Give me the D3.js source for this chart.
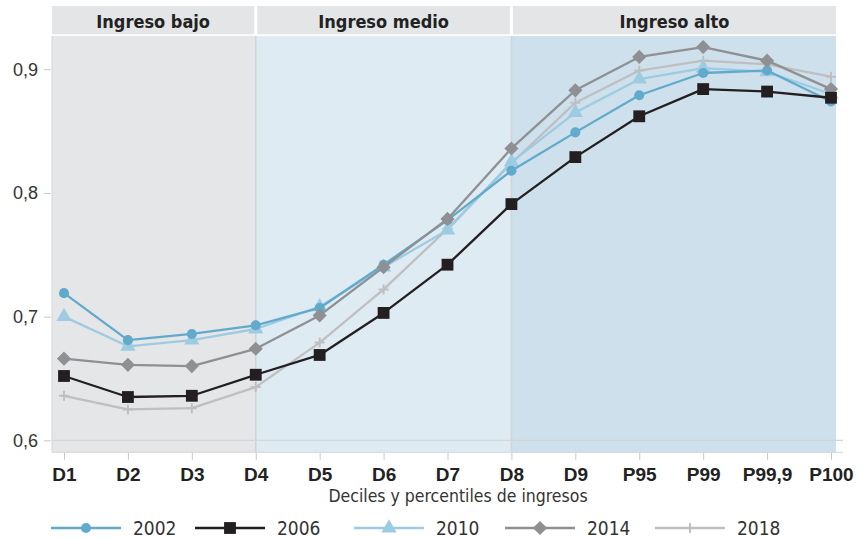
<!DOCTYPE html>
<html>
<head>
<meta charset="utf-8">
<script src="https://cdn.jsdelivr.net/npm/d3@7"></script>
<style>
  html, body { margin: 0; padding: 0; background: #fff; }
  svg { display: block; font-family: "Liberation Sans Narrow", "DejaVu Sans Condensed", "Roboto", sans-serif; }
</style>
</head>
<body>
<svg id="chart" width="866" height="539"></svg>
<script>
const categories = ["D1","D2","D3","D4","D5","D6","D7","D8","D9","P95","P99","P99,9","P100"];
const s2002 = [0.719,0.681,0.686,0.693,0.707,0.742,0.778,0.818,0.849,0.879,0.897,0.899,0.874];
const s2006 = [0.652,0.635,0.636,0.653,0.669,0.703,0.742,0.791,0.829,0.862,0.884,0.882,0.877];
const s2010 = [0.700,0.676,0.681,0.690,0.708,0.740,0.770,0.825,0.865,0.892,0.901,0.898,0.880];
const s2014 = [0.666,0.661,0.660,0.674,0.701,0.740,0.779,0.836,0.883,0.910,0.918,0.907,0.884];
const s2018 = [0.636,0.625,0.626,0.643,0.679,0.722,0.771,0.824,0.873,0.899,0.907,0.904,0.894];
const yTicks = [0.6, 0.7, 0.8, 0.9];
const yTickLabels = ["0,6", "0,7", "0,8", "0,9"];
const panels = [
  { label: "Ingreso bajo", from: null, to: "D4", fill: "#e5e6e8" },
  { label: "Ingreso medio", from: "D4", to: "D8", fill: "#deebf3" },
  { label: "Ingreso alto", from: "D8", to: null, fill: "#cde0ec" }
];
const seriesInfo = [
  { name: "2002", values: s2002, color: "#62aacb", symbol: "circle" },
  { name: "2006", values: s2006, color: "#231f20", symbol: "square" },
  { name: "2010", values: s2010, color: "#9dcbe1", symbol: "triangle" },
  { name: "2014", values: s2014, color: "#8f9093", symbol: "diamond" },
  { name: "2018", values: s2018, color: "#bfbfc1", symbol: "plus" }
];
const drawOrder = ["2018", "2010", "2002", "2014", "2006"];
const xTitle = "Deciles y percentiles de ingresos";

const svg = d3.select("#chart");
const x = d3.scalePoint().domain(categories).range([64, 831]);
const y = d3.scaleLinear().domain([0.6, 0.9]).range([440.3, 69.3]);

const plotLeft = 52, plotRight = 836, gridRight = 843;
const plotTop = y(0.927), plotBottom = y(0.5903);
const headTop = 6, headBottom = 34.3;

// panels
panels.forEach((p, i) => {
  const x0 = p.from ? x(p.from) : plotLeft;
  const x1 = p.to ? x(p.to) : plotRight;
  svg.append("rect").attr("x", x0).attr("y", plotTop).attr("width", x1 - x0).attr("height", plotBottom - plotTop).attr("fill", p.fill);
  const hx0 = x0 + (i === 0 ? 0 : 1.5), hx1 = x1 - (i === panels.length - 1 ? 0 : 1.5);
  svg.append("rect").attr("x", hx0).attr("y", headTop).attr("width", hx1 - hx0).attr("height", headBottom - headTop).attr("fill", "#e4e5e7");
  svg.append("text").attr("x", (hx0 + hx1) / 2).attr("y", 27.5).attr("text-anchor", "middle")
    .attr("font-size", 18).attr("font-weight", "bold").attr("fill", "#222").text(p.label);
});
// separators
["D4", "D8"].forEach(c => {
  svg.append("line").attr("x1", x(c)).attr("x2", x(c)).attr("y1", plotTop).attr("y2", plotBottom)
    .attr("stroke", "#cfd4d8").attr("stroke-width", 1.5);
});
// left border and bottom
svg.append("line").attr("x1", plotLeft).attr("x2", plotLeft).attr("y1", plotTop).attr("y2", plotBottom).attr("stroke", "#d3d6d9").attr("stroke-width", 1);
svg.append("line").attr("x1", plotLeft).attr("x2", gridRight).attr("y1", plotBottom).attr("y2", plotBottom).attr("stroke", "#d3d6d9").attr("stroke-width", 1);
svg.append("line").attr("x1", plotLeft).attr("x2", gridRight).attr("y1", y(0.6)).attr("y2", y(0.6)).attr("stroke", "#d3d6d9").attr("stroke-width", 1.2);

// y axis
const yAxis = d3.axisLeft(y).tickValues(yTicks).tickSize(7).tickPadding(6)
  .tickFormat((d, i) => yTickLabels[i]);
const gy = svg.append("g").attr("transform", `translate(${plotLeft - 1},0)`).call(yAxis);
gy.select(".domain").remove();
gy.selectAll(".tick line").attr("stroke", "#c8c8c8");
gy.selectAll(".tick text").attr("font-size", 18).attr("fill", "#333").attr("font-family", null);

// x axis
const xAxis = d3.axisBottom(x).tickSize(7).tickPadding(8);
const gx = svg.append("g").attr("transform", `translate(0,${plotBottom + 0.5})`).call(xAxis);
gx.select(".domain").remove();
gx.selectAll(".tick line").attr("stroke", "#c8c8c8");
gx.selectAll(".tick text").attr("font-size", 19).attr("font-weight", "bold").attr("fill", "#222").attr("font-family", null);

svg.append("text").attr("x", 458).attr("y", 502).attr("text-anchor", "middle")
  .attr("font-size", 17.5).attr("fill", "#333").text(xTitle);

// markers
function drawMarker(g, type, cx, cy, color, scale = 1) {
  if (type === "plus") {
    const h = 5 * scale;
    g.append("path").attr("d", `M${cx - h},${cy}H${cx + h}M${cx},${cy - h}V${cy + h}`)
      .attr("stroke", color).attr("stroke-width", 2).attr("fill", "none");
    return;
  }
  let sym, size, rot = 0;
  if (type === "circle") { sym = d3.symbolCircle; size = 80; }
  else if (type === "square") { sym = d3.symbolSquare; size = 140; }
  else if (type === "triangle") { sym = d3.symbolTriangle; size = 100; }
  else { sym = d3.symbolSquare; size = 100; rot = 45; }
  g.append("path").attr("d", d3.symbol().type(sym).size(size * scale * scale)())
    .attr("transform", `translate(${cx},${cy}) rotate(${rot})`).attr("fill", color);
}

const line = d3.line().x((d, i) => x(categories[i])).y(d => y(d));
drawOrder.forEach(name => {
  const s = seriesInfo.find(e => e.name === name);
  const g = svg.append("g");
  g.append("path").datum(s.values).attr("d", line).attr("fill", "none")
    .attr("stroke", s.color).attr("stroke-width", 2.3).attr("stroke-linejoin", "round");
  s.values.forEach((v, i) => drawMarker(g, s.symbol, x(categories[i]), y(v), s.color));
});

// legend
const legendStarts = [51, 195, 354, 505, 655];
seriesInfo.forEach((s, i) => {
  const lx = legendStarts[i], ly = 528;
  const g = svg.append("g");
  g.append("line").attr("x1", lx).attr("x2", lx + 70).attr("y1", ly).attr("y2", ly)
    .attr("stroke", s.color).attr("stroke-width", 2.5);
  drawMarker(g, s.symbol, lx + 35, ly, s.color);
  g.append("text").attr("x", lx + 82).attr("y", ly + 6.5).attr("font-size", 19).attr("fill", "#333").text(s.name);
});
</script>
</body>
</html>
